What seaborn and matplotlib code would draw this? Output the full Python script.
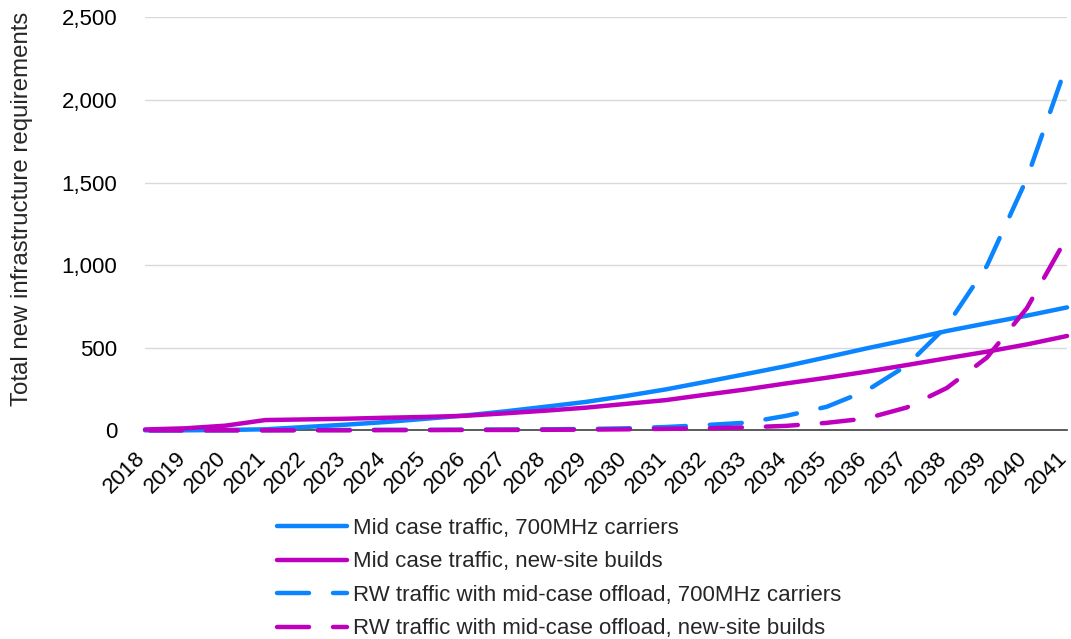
import matplotlib
matplotlib.use("Agg")
import matplotlib.pyplot as plt
import matplotlib.transforms as mtransforms
from matplotlib.lines import Line2D
import seaborn as sns
import pandas as pd
from matplotlib.ticker import FuncFormatter

# Yearly infrastructure requirement series
years = list(range(2018, 2042))
mid_700 = [0, 0, 2, 6, 20, 34, 50, 70, 90, 115, 143, 172, 208, 248, 294, 341,
           389, 442, 496, 547, 601, 648, 694, 744]
mid_sites = [5, 12, 28, 62, 66, 70, 76, 81, 88, 103, 119, 137, 160, 183, 216,
             248, 284, 318, 355, 395, 436, 476, 520, 571]
rw_700 = [0, 0, 0, 0, 2, 2, 3, 3, 4, 5, 6, 8, 12, 20, 32, 46, 88, 142, 240,
          392, 632, 995, 1525, 2220]
rw_sites = [0, 0, 0, 0, 0, 0, 1, 1, 2, 2, 3, 4, 6, 9, 12, 18, 27, 45, 72, 138,
            256, 440, 740, 1170]

series_names = [
    "Mid case traffic, 700MHz carriers",
    "Mid case traffic, new-site builds",
    "RW traffic with mid-case offload, 700MHz carriers",
    "RW traffic with mid-case offload, new-site builds",
]
series_values = [mid_700, mid_sites, rw_700, rw_sites]

df = pd.concat(
    [pd.DataFrame({"year": years, "value": v, "series": n})
     for n, v in zip(series_names, series_values)],
    ignore_index=True,
)

blue = "#0A84FF"
purple = "#BE00BE"
colors = [blue, purple, blue, purple]
palette = dict(zip(series_names, colors))
dash_pat = (7.2, 5.4)
dashes = dict(zip(series_names, ["", "", dash_pat, dash_pat]))
lw = 3.2

sns.set_style("white")
plt.rcParams["font.family"] = ["Liberation Sans", "DejaVu Sans"]

fig = plt.figure(figsize=(10.71, 6.39), dpi=100)
ax = fig.add_axes([0.1354, 0.3266, 0.8609, 0.6463])

sns.lineplot(data=df, x="year", y="value", hue="series", style="series",
             hue_order=series_names, style_order=series_names,
             palette=palette, dashes=dashes, linewidth=lw, errorbar=None,
             ax=ax)
if ax.get_legend() is not None:
    ax.get_legend().remove()

lines = ax.lines[:4]
for i, ln in enumerate(lines):
    if i >= 2:
        # phase the dash pattern so the final segment ends in a gap
        ln.set_linestyle((11.5, dash_pat))
    ln.set_dash_capstyle("round")
    ln.set_solid_capstyle("round")
    ln.set_clip_on(False)
    ln.set_zorder(3)

ax.set_xlim(2018, 2041)
ax.set_ylim(0, 2500)
ax.set_xticks(years)
ax.set_yticks(range(0, 2501, 500))
ax.yaxis.set_major_formatter(FuncFormatter(lambda v, p: f"{int(v):,}"))

ax.grid(axis="y", color="#D9D9D9", linewidth=1.0)
ax.grid(axis="x", visible=False)
for s in ["left", "right", "top"]:
    ax.spines[s].set_visible(False)
ax.spines["bottom"].set_color("#404040")
ax.spines["bottom"].set_linewidth(1.2)

ax.tick_params(axis="y", length=0, pad=20, labelsize=16, labelcolor="black")
ax.tick_params(axis="x", direction="inout", length=10.5, width=1.0,
               color="#404040", labelsize=16, pad=7, labelcolor="black")
shift = mtransforms.ScaledTranslation(-10 / 100, 0, fig.dpi_scale_trans)
for lbl in ax.get_xticklabels():
    lbl.set_rotation(45)
    lbl.set_ha("right")
    lbl.set_va("top")
    lbl.set_rotation_mode("anchor")
    lbl.set_transform(lbl.get_transform() + shift)

ax.set_xlabel("")
ax.set_ylabel("Total new infrastructure requirements", fontsize=17.3,
              va="center")
ax.yaxis.set_label_coords(-0.1334, 0.536)

# Legend keys drawn with the plain dash pattern starting on a dash
handles = []
for c, d in zip(colors, ["-", "-", (0, dash_pat), (0, dash_pat)]):
    h = Line2D([], [], color=c, linewidth=lw, linestyle=d)
    h.set_dash_capstyle("round")
    h.set_solid_capstyle("round")
    handles.append(h)

fig.legend(handles=handles, labels=series_names, loc="upper left",
           bbox_to_anchor=(277 / 1071, 1 - 518 / 639), frameon=False,
           fontsize=16, handlelength=3.15, handletextpad=0.27,
           labelspacing=0.56, borderpad=0, borderaxespad=0)

fig.savefig("out.png", dpi=100)
